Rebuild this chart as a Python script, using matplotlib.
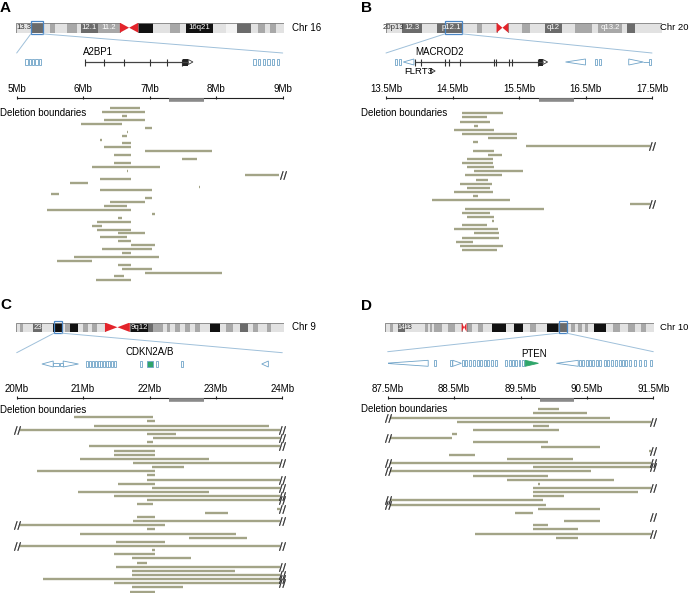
import matplotlib
matplotlib.use('Agg')
import matplotlib.pyplot as plt
from matplotlib.patches import Rectangle, Polygon, ConnectionPatch

plt.rcParams['font.family'] = ['Liberation Sans', 'DejaVu Sans']

W, H = 689, 593

# ---------------- ideogram bands (start Mb, end Mb, shade 0..4) ----------------
chr16_len = 90.3
chr16_bands = [(0, 5.05, 1), (5.05, 9.2, 3), (9.2, 11.4, 1), (11.4, 13.1, 2), (13.1, 17.1, 1),
               (17.1, 20.4, 2), (20.4, 21.9, 1), (21.9, 27.5, 3), (27.5, 35.0, 2),
               (41.2, 46.0, 4), (46.0, 51.8, 1), (51.8, 55.2, 2), (55.2, 57.4, 1), (57.4, 66.4, 4),
               (66.4, 70.9, 1), (70.9, 74.5, 0), (74.5, 79.3, 3), (79.3, 81.6, 1), (81.6, 83.8, 2),
               (83.8, 85.5, 1), (85.5, 87.7, 2), (87.7, 90.3, 1)]
chr16_cen = (35.0, 41.2)
chr16_labels = [(2.5, '13.3', 0), (24.7, '12.1', 1), (31.2, '11.2', 1), (61.9, '16q21', 1)]

chr20_len = 63.0
chr20_bands = [(0, 3.65, 1), (3.65, 8.2, 3), (8.2, 11.6, 1), (11.6, 17.5, 3), (17.5, 20.8, 1),
               (20.8, 21.9, 2), (21.9, 25.3, 1), (28.0, 31.0, 1), (31.0, 33.0, 2), (33.0, 36.4, 1),
               (36.4, 40.2, 3), (40.2, 43.2, 1), (43.2, 47.0, 2), (47.0, 48.5, 1), (48.5, 53.9, 2),
               (53.9, 55.0, 1), (55.0, 56.9, 3), (56.9, 63.0, 1)]
chr20_cen = (25.3, 28.0)
chr20_labels = [(1.8, '20p13', 0), (6.0, '12.3', 1), (15.0, 'p12.1', 1), (38.3, 'q12', 1), (51.2, 'q13.2', 1)]

chr9_len = 141.0
chr9_bands = [(0, 2.1, 1), (2.1, 3.9, 2), (3.9, 9.1, 1), (9.1, 13.5, 3), (13.5, 19.6, 1), (19.6, 24.0, 4),
              (24.0, 25.8, 1), (25.8, 28.4, 2), (28.4, 32.8, 4), (32.8, 35.4, 1), (35.4, 38.0, 2),
              (38.0, 39.8, 1), (39.8, 42.4, 2), (42.4, 46.8, 1), (59.9, 69.6, 4), (69.6, 72.2, 3),
              (72.2, 77.4, 2), (77.4, 79.2, 1), (79.2, 80.9, 2), (80.9, 83.6, 1), (83.6, 86.2, 2),
              (86.2, 88.8, 1), (88.8, 91.5, 2), (91.5, 94.1, 1), (94.1, 96.7, 2), (96.7, 102.0, 1),
              (102.0, 107.2, 4), (107.2, 110.7, 1), (110.7, 114.2, 2), (114.2, 117.7, 1),
              (117.7, 122.1, 3), (122.1, 124.7, 1), (124.7, 127.4, 2), (127.4, 131.8, 1),
              (131.8, 134.4, 2), (134.4, 141.0, 1)]
chr9_cen = (46.8, 59.9)
chr9_labels = [(11.3, '23', 1), (64.7, '9q12', 1)]

chr10_len = 135.5
chr10_bands = [(0, 2.5, 1), (2.5, 4.2, 2), (4.2, 6.7, 1), (6.7, 10.1, 3), (10.1, 20.1, 1), (20.1, 21.8, 2),
               (21.8, 22.6, 1), (22.6, 23.8, 2), (23.8, 24.8, 1), (24.8, 28.5, 2), (28.5, 31.9, 1),
               (31.9, 35.2, 2), (35.2, 38.6, 1), (41.1, 43.6, 2), (43.6, 47.0, 1), (47.0, 49.5, 2),
               (49.5, 53.7, 1), (53.7, 61.2, 4), (61.2, 65.1, 1), (65.1, 69.6, 4), (69.6, 73.0, 1),
               (73.0, 76.3, 2), (76.3, 81.8, 1), (81.8, 87.2, 4), (87.2, 91.9, 3), (91.9, 93.9, 1),
               (93.9, 95.6, 2), (95.6, 97.3, 1), (97.3, 99.0, 2), (99.0, 100.6, 1), (100.6, 102.3, 2),
               (102.3, 105.3, 1), (105.3, 111.5, 4), (111.5, 114.9, 1), (114.9, 118.2, 2),
               (118.2, 122.4, 1), (122.4, 125.8, 2), (125.8, 129.1, 1), (129.1, 131.6, 2),
               (131.6, 135.5, 1)]
chr10_cen = (38.6, 41.1)
chr10_labels = [(8.3, '14', 1), (12.0, '13', 0)]

# ---------------- gene tracks ----------------
a_boxes = [5.13, 5.18, 5.23, 5.28, 5.33, 8.56, 8.63, 8.70, 8.77, 8.84, 8.91]
a_gene = (6.03, 7.58)
a_exons = [6.03, 6.31, 6.62, 7.01, 7.26, 7.49]
a_block = (7.50, 7.58)

b_boxes = [13.64, 13.70, 16.65, 16.71, 17.46]
b_wedges = [(13.76, 13.92), (16.20, 16.50), (17.37, 17.15)]
b_gene = (13.94, 15.86)
b_exons = [13.94, 14.03, 14.39, 14.44, 14.61, 15.13, 15.16, 15.35, 15.40, 15.78]
b_block = (15.80, 15.86)

c_boxes = [21.04, 21.09, 21.14, 21.18, 21.22, 21.26, 21.30, 21.34, 21.38, 21.42, 21.46, 21.85, 22.10, 22.48]
c_wedges = [(20.38, 20.55), (20.93, 20.70), (23.69, 23.79)]
c_green = (21.96, 22.06)

d_boxes = [88.19, 88.44, 88.62, 88.67, 88.73, 88.78, 88.84, 88.89, 88.95, 89.00, 89.06, 89.12,
           89.26, 89.32, 89.37, 89.42, 89.47, 89.52, 90.38, 90.43, 90.48, 90.53, 90.58, 90.63,
           90.68, 90.76, 90.81, 90.86, 90.93, 90.98, 91.03, 91.08, 91.13, 91.21, 91.28, 91.36, 91.45]
d_wedges = [(87.46, 88.11), (88.61, 88.48), (90.04, 90.37)]
d_green = (89.77, 89.57)

# ---------------- deletion boundaries (Mb) ----------------
a_start = [6.40, 6.29, 6.59, 6.32, 5.97, 6.93, 6.66, 6.59, 6.25, 6.59, 6.32, 6.93, 6.47, 7.49, 6.47,
           6.13, 6.66, 8.43, 6.25, 5.80, 7.74, 6.25, 5.52, 6.93, 6.40, 6.32, 5.45, 7.03, 6.52, 6.21,
           6.13, 6.21, 6.52, 6.25, 6.52, 6.72, 6.29, 6.59, 5.86, 5.61, 6.52, 6.59, 6.93, 6.47, 6.19]
a_end = [6.85, 6.93, 6.66, 6.93, 6.59, 7.03, 6.67, 6.66, 6.28, 6.72, 6.72, 7.94, 6.72, 7.71, 6.72,
         7.15, 6.67, 8.95, 6.72, 6.07, 7.76, 7.03, 5.64, 7.03, 6.93, 6.66, 6.72, 7.08, 6.59, 6.72,
         6.29, 6.72, 6.93, 6.66, 6.72, 7.08, 7.03, 6.72, 7.14, 6.13, 6.72, 7.03, 8.08, 6.61, 6.72]
a_cut_left = []
a_cut_right = [17]

b_start = [14.65, 14.65, 14.61, 14.83, 14.52, 14.65, 15.03, 14.81, 15.60, 14.81, 15.03, 14.72,
           14.64, 14.72, 14.83, 14.69, 14.85, 14.61, 14.72, 14.52, 14.81, 14.19, 17.17, 14.69,
           14.64, 14.72, 15.10, 14.65, 14.52, 14.83, 14.64, 14.55, 14.61, 14.64]
b_end = [15.26, 15.02, 15.06, 14.88, 15.13, 15.47, 15.47, 14.88, 17.47, 15.13, 15.25, 15.11,
         15.11, 15.13, 15.56, 15.25, 15.03, 15.10, 15.06, 15.11, 14.88, 15.37, 17.47, 15.87,
         15.06, 15.13, 15.12, 15.02, 15.19, 15.20, 15.20, 14.81, 15.26, 15.17]
b_cut_left = []
b_cut_right = [8, 22]

c_start = [20.87, 21.96, 21.16, 20.05, 21.96, 22.05, 21.96, 21.09, 21.46, 21.46, 20.95, 21.75,
           22.04, 20.31, 21.96, 21.96, 21.53, 22.04, 20.93, 21.46, 21.96, 21.81, 23.92, 22.84,
           21.81, 21.75, 20.05, 21.96, 20.95, 22.60, 21.49, 20.05, 22.04, 21.46, 21.73, 21.81,
           21.49, 21.73, 21.73, 20.40, 21.46, 21.73, 21.71]
c_end = [22.05, 22.09, 23.80, 23.96, 22.40, 23.96, 22.05, 23.96, 22.09, 22.09, 22.90, 23.96,
         22.52, 22.09, 22.09, 23.96, 22.09, 23.96, 22.90, 23.96, 23.96, 22.05, 23.96, 23.18,
         22.09, 23.96, 22.24, 22.09, 23.31, 23.47, 22.24, 23.96, 22.09, 22.09, 22.63, 21.96,
         23.96, 23.29, 23.96, 23.96, 23.96, 22.50, 22.09]
c_cut_left = [3, 26, 31]
c_cut_right = [3, 5, 7, 11, 15, 17, 19, 20, 22, 25, 31, 36, 38, 39, 40]

d_start = [89.76, 89.69, 87.53, 88.54, 89.69, 88.78, 88.47, 87.53, 88.78, 89.81, 91.44, 88.43,
           89.29, 87.53, 89.69, 87.53, 88.78, 89.29, 89.76, 89.69, 89.69, 89.69, 87.53, 87.53,
           89.76, 89.41, 91.47, 90.16, 89.69, 89.69, 88.81, 90.03]
d_end = [90.08, 90.50, 90.85, 91.47, 89.93, 90.08, 88.54, 88.47, 89.91, 90.69, 91.47, 88.81,
         90.29, 91.47, 91.47, 90.56, 89.91, 90.91, 89.79, 91.47, 91.27, 90.16, 89.84, 89.89,
         90.69, 89.69, 91.47, 90.69, 89.92, 90.37, 91.47, 90.36]
d_cut_left = [2, 7, 13, 15, 22, 23]
d_cut_right = [3, 10, 13, 14, 19, 26, 30]

# minimal region marked under the axis
a_region = (7.29, 7.81)
b_region = (15.80, 16.33)
c_region = (22.29, 22.82)
d_region = (89.79, 90.31)

shade = {0: '#f3f3f3', 1: '#e2e2e2', 2: '#a8a8a8', 3: '#6b6b6b', 4: '#111111'}
bar_col = '#a3a487'
track_col = '#6fa3c8'
zoom_col = '#9fc0da'
box_col = '#4a86c5'
green = '#2fa56a'

fig = plt.figure(figsize=(W / 100, H / 100), dpi=100)


def px_axes(x0, y0, x1, y1):
    return fig.add_axes([x0 / W, 1 - y1 / H, (x1 - x0) / W, (y1 - y0) / H])


def ideogram(x0, x1, y0, y1, length, bands, cen, labels, box, lab_size=5.6):
    ax = px_axes(x0, y0, x1, y1)
    ax.set_xlim(0, length)
    ax.set_ylim(0, 1)
    ax.axis('off')
    for s, e, c in bands:
        ax.add_patch(Rectangle((s, 0), e - s, 1, fc=shade[c], ec='none'))
    ax.add_patch(Rectangle((0, 0), cen[0], 1, fill=False, ec='#808080', lw=0.6))
    ax.add_patch(Rectangle((cen[1], 0), length - cen[1], 1, fill=False, ec='#808080', lw=0.6))
    cm = (cen[0] + cen[1]) / 2
    ax.add_patch(Polygon([(cen[0], 0), (cen[0], 1), (cm, 0.5)], fc='#e3242b', ec='none'))
    ax.add_patch(Polygon([(cen[1], 0), (cen[1], 1), (cm, 0.5)], fc='#e3242b', ec='none'))
    for pos, txt, dark in labels:
        ax.text(pos, 0.5, txt, ha='center', va='center', fontsize=lab_size,
                color='white' if dark else '#333333')
    ax.add_patch(Rectangle((box[0], -0.12), box[1] - box[0], 1.24, fill=False,
                           ec=box_col, lw=0.9, clip_on=False))
    return ax


def panel(xl, xr, ytop, ybot, lo, hi):
    ax = px_axes(xl, ytop, xr, ybot)
    ax.set_xlim(lo, hi)
    ax.set_ylim(ybot, ytop)
    ax.axis('off')
    return ax


def zoom_lines(axi, ax, box, lo, hi, y):
    for xa, xb in [(box[0], lo), (box[1], hi)]:
        con = ConnectionPatch(xyA=(xa, -0.12), coordsA=axi.transData,
                              xyB=(xb, y), coordsB=ax.transData, color=zoom_col, lw=0.7)
        fig.add_artist(con)


def scale(ax, lo, hi, y, region, fmt):
    ticks = [lo + i for i in range(int(hi - lo) + 1)]
    ax.hlines(y, lo, hi, color='#222222', lw=0.8, clip_on=False)
    ax.vlines(ticks, y - 2, y + 1, color='#222222', lw=0.8, clip_on=False)
    for t in ticks:
        ax.text(t, y - 9, fmt.format(t), ha='center', va='center', fontsize=7, clip_on=False)
    ax.hlines(y + 2, region[0], region[1], color='#8a8a8a', lw=2.6)


def bars(ax, starts, ends, cut_l, cut_r, y0, dy, lo, hi):
    ys = [y0 + i * dy for i in range(len(starts))]
    ax.hlines(ys, starts, ends, color=bar_col, lw=1.7, clip_on=False)
    for i in cut_l:
        ax.plot([lo], [ys[i]], marker='$//$', ms=6, color='#222222', mew=0.2, clip_on=False)
    for i in cut_r:
        ax.plot([hi], [ys[i]], marker='$//$', ms=6, color='#222222', mew=0.2, clip_on=False)


def boxes(ax, xs, y, w=0.03):
    for x in xs:
        ax.add_patch(Rectangle((x, y - 3), w, 6, fc='white', ec=track_col, lw=0.6))


def wedges(ax, ws, y, h=6, fc='white', ec=track_col):
    for tip, base in ws:
        ax.add_patch(Polygon([(tip, y), (base, y - h / 2), (base, y + h / 2)],
                             fc=fc, ec=ec, lw=0.6))


def gene(ax, span, exons, block, y):
    ax.hlines(y, span[0], span[1], color='#444444', lw=0.9)
    ax.vlines(exons, y - 3.5, y + 3.5, color='#333333', lw=0.8)
    ax.add_patch(Rectangle((block[0], y - 3.5), block[1] - block[0], 7, fc='#222222', ec='none'))
    wedges(ax, [(span[1] + 0.07, span[1])], y, h=5, ec='#333333')


# ---------------- panel A ----------------
ia = ideogram(16, 284, 22.7, 32.7, chr16_len, chr16_bands, chr16_cen, chr16_labels, (5, 9))
pa = panel(16.7, 282.7, 0, 296, 5, 9)
zoom_lines(ia, pa, (5, 9), 5, 9, 53)
boxes(pa, a_boxes, 62, 0.035)
gene(pa, a_gene, a_exons, a_block, 62)
pa.text(6.0, 52, 'A2BP1', fontsize=7, ha='left', va='center')
scale(pa, 5, 9, 97.7, a_region, '{:g}Mb')
bars(pa, a_start, a_end, a_cut_left, a_cut_right, 108.3, 3.91, 5, 9)

# ---------------- panel B ----------------
ib = ideogram(385.7, 661.7, 22.7, 32.7, chr20_len, chr20_bands, chr20_cen, chr20_labels, (13.5, 17.5))
pb = panel(386, 652, 0, 296, 13.5, 17.5)
zoom_lines(ib, pb, (13.5, 17.5), 13.5, 17.5, 53)
boxes(pb, b_boxes, 62)
wedges(pb, b_wedges, 62)
pb.hlines(62, 17.37, 17.46, color=track_col, lw=0.6)
gene(pb, b_gene, b_exons, b_block, 62)
pb.text(13.94, 52, 'MACROD2', fontsize=7, ha='left', va='center')
pb.text(13.78, 71, 'FLRT3', fontsize=6.8, ha='left', va='center')
wedges(pb, [(14.24, 14.17)], 71, h=5, ec='#333333')
scale(pb, 13.5, 17.5, 97.7, b_region, '{:g}Mb')
bars(pb, b_start, b_end, b_cut_left, b_cut_right, 113.3, 4.14, 13.5, 17.5)

# ---------------- panel C ----------------
ic = ideogram(16, 284, 322.5, 332, chr9_len, chr9_bands, chr9_cen, chr9_labels, (20, 24))
pc = panel(16.7, 282.3, 296, 593, 20, 24)
zoom_lines(ic, pc, (20, 24), 20, 24, 352.7)
wedges(pc, c_wedges, 364)
pc.add_patch(Rectangle((20.55, 362.5), 0.08, 3, fc='white', ec=track_col, lw=0.6))
pc.add_patch(Rectangle((20.65, 362.5), 0.05, 3, fc='white', ec=track_col, lw=0.6))
boxes(pc, c_boxes, 364)
pc.add_patch(Rectangle((c_green[0], 361), c_green[1] - c_green[0], 6, fc=green, ec=track_col, lw=0.6))
pc.text(22.0, 352, 'CDKN2A/B', fontsize=7, ha='center', va='center')
scale(pc, 20, 24, 397.7, c_region, '{:g}Mb')
bars(pc, c_start, c_end, c_cut_left, c_cut_right, 417.3, 4.15, 20, 24)

# ---------------- panel D ----------------
idd = ideogram(385, 654, 322.5, 332, chr10_len, chr10_bands, chr10_cen, chr10_labels, (87.5, 91.5),
               lab_size=5)
pd_ = panel(387.7, 653.3, 296, 593, 87.5, 91.5)
zoom_lines(idd, pd_, (87.5, 91.5), 87.5, 91.5, 351.7)
wedges(pd_, d_wedges, 363.3)
boxes(pd_, d_boxes, 363.3)
wedges(pd_, [d_green], 363.3, fc=green, ec=green)
pd_.text(89.7, 354, 'PTEN', fontsize=7, ha='center', va='center')
scale(pd_, 87.5, 91.5, 397.7, d_region, '{:g}Mb')
bars(pd_, d_start, d_end, d_cut_left, d_cut_right, 409.3, 4.14, 87.5, 91.5)

# ---------------- labels ----------------
def ftext(x, y, s, **kw):
    fig.text(x / W, 1 - y / H, s, va='center', **kw)


ftext(0, 7.5, 'A', fontsize=11, fontweight='bold')
ftext(361, 8.5, 'B', fontsize=11, fontweight='bold')
ftext(0, 305, 'C', fontsize=11, fontweight='bold')
ftext(361, 306, 'D', fontsize=11, fontweight='bold')
ftext(292, 27.7, 'Chr 16', fontsize=7)
ftext(688, 27.7, 'Chr 20', fontsize=6.8, ha='right')
ftext(292, 327, 'Chr 9', fontsize=7)
ftext(688, 327, 'Chr 10', fontsize=6.8, ha='right')
ftext(0, 113.3, 'Deletion boundaries', fontsize=7)
ftext(361, 113.3, 'Deletion boundaries', fontsize=7)
ftext(0, 410, 'Deletion boundaries', fontsize=7)
ftext(361, 409, 'Deletion boundaries', fontsize=7)

fig.savefig('out.png', dpi=100)
